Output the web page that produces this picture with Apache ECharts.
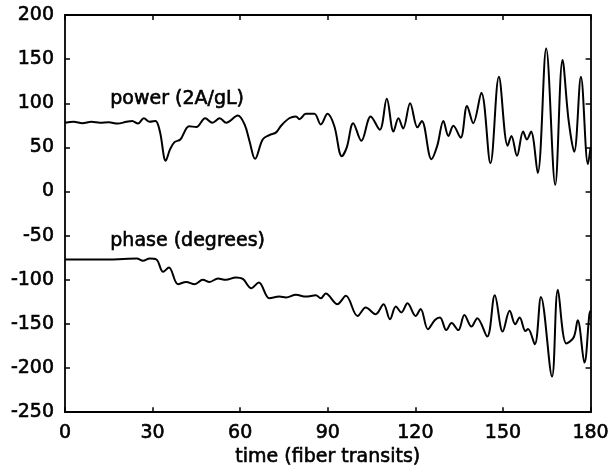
<!DOCTYPE html>
<html>
<head>
<meta charset="utf-8">
<script src="https://cdn.jsdelivr.net/npm/echarts@6/dist/echarts.min.js"></script>
<style>html,body{margin:0;padding:0;background:#fff}#c{width:612px;height:472px}</style>
</head>
<body>
<div id="c"></div>
<script>
var xTicks = [0, 30, 60, 90, 120, 150, 180];
var yTicks = [-250, -200, -150, -100, -50, 0, 50, 100, 150, 200];

var powerT = [0,3,6,9,12,15,18,21,23,25,27,29,31,32.5,34.5,36,37.5,39.5,42.5,45,48,50.5,53,55.2,59.2,61.5,63.2,65.1,67.7,70,72.3,74,76.8,79.1,80.3,82.5,85.4,87.6,89.9,92.2,94.8,96.5,98.7,101.5,104.7,107.8,110.2,112.5,114.2,115.8,118.2,120.7,122.2,125.5,127.5,129.6,131.3,133,135.5,137.7,139.8,142.6,145.7,148.6,151.6,152.9,154.8,156.9,158.2,159.6,161.9,164.8,167.9,170.4,172.5,174.4,176.7,179.1,180];
var powerV = [78,79,77.5,79,78,78.5,77,79,80,77,83,79,80,68,35,48,56,59,74,73,83,78,83,78,86,76,57,37,59,64,67,74.5,83,85,82,88,88,76,88,74.5,40,50,77.5,57.5,85,70,105,68,83,71.5,100,72.7,80,36.7,52,80,63,74.5,61,97,77.5,112,32,130,52,63,40.5,68,59,68,21,162,7.6,149,80,45,130,31,50];

var phaseT = [0,5,10,15,20,24.6,26.7,29,31.3,33.6,35.6,38.7,41.5,44.4,47.2,49.5,52.4,55.1,58.5,60.9,63.8,66.4,70,73.4,75.7,79.1,82.5,85.9,87.6,89.3,93.3,96.2,100.2,103,106.4,109.1,111.3,113.3,115.2,117.3,120.1,121.8,124.3,126.7,128.4,130.6,132.4,134.7,136.8,139.2,141.2,144.6,147.2,149.9,152.3,154.2,155.7,157.7,158.6,160.9,163,166.8,168.8,171.7,174.2,175.6,177.9,179.6,180];
var phaseV = [-77,-77,-77,-77,-76.5,-76,-78.5,-76,-77,-91,-86,-105,-102.4,-105,-100,-102.4,-98.6,-100,-97.4,-99,-109.5,-103,-121,-119,-120,-117,-119,-117.5,-121,-115.5,-127.7,-118.2,-141,-131.4,-139,-127.7,-144.7,-130.3,-137,-126.5,-141,-133,-156,-145.5,-142.7,-157,-149,-157,-139.8,-153,-143.5,-164.3,-117.5,-158.6,-135.2,-150.3,-142.7,-158,-155.6,-173,-119.4,-209.6,-111.4,-172.2,-165.4,-145.8,-193.8,-139,-135];

var labels = ["power (2A/gL)", "phase (degrees)"];
var xName = "time (fiber transits)";

function pairs(t, v) { return t.map(function (x, i) { return [x, v[i]]; }); }

var FONT = "DejaVu Sans";
var FS = 19;
var TB = 0.6;
var axisLine = { onZero: false, lineStyle: { color: '#000', width: 1.8 } };
var tick = { inside: true, length: 5, lineStyle: { color: '#000', width: 1.5 } };
var txt = { color: '#000', fontFamily: FONT, fontSize: FS, textBorderColor: '#000', textBorderWidth: TB };

var chart = echarts.init(document.getElementById('c'));
chart.setOption({
  animation: false,
  backgroundColor: '#fff',
  grid: { left: 65, right: 20, top: 15, bottom: 59 },
  xAxis: [{
    type: 'value', min: xTicks[0], max: xTicks[xTicks.length - 1], interval: 30,
    splitLine: { show: false }, axisLine: axisLine, axisTick: tick,
    axisLabel: Object.assign({ margin: 11 }, txt),
    name: xName, nameLocation: 'middle', nameGap: 32,
    nameTextStyle: txt
  }, {
    type: 'value', position: 'top', min: 0, max: 180, interval: 30,
    splitLine: { show: false }, axisLine: axisLine, axisTick: tick, axisLabel: { show: false }
  }],
  yAxis: [{
    type: 'value', min: yTicks[0], max: yTicks[yTicks.length - 1], interval: 50,
    splitLine: { show: false }, axisLine: axisLine, axisTick: tick,
    axisLabel: Object.assign({ margin: 11 }, txt)
  }, {
    type: 'value', position: 'right', min: -250, max: 200, interval: 50,
    splitLine: { show: false }, axisLine: axisLine, axisTick: tick, axisLabel: { show: false }
  }],
  graphic: [
    { type: 'text', left: 110, top: 89, style: { text: labels[0], fill: '#000', stroke: '#000', lineWidth: TB, font: FS + 'px "' + FONT + '"' } },
    { type: 'text', left: 110, top: 231, style: { text: labels[1], fill: '#000', stroke: '#000', lineWidth: TB, font: FS + 'px "' + FONT + '"' } }
  ],
  series: [{
    type: 'line', data: pairs(powerT, powerV), smooth: 0.35, showSymbol: false,
    lineStyle: { color: '#000', width: 2 }
  }, {
    type: 'line', data: pairs(phaseT, phaseV), smooth: 0.35, showSymbol: false,
    lineStyle: { color: '#000', width: 2 }
  }]
});
</script>
</body>
</html>
